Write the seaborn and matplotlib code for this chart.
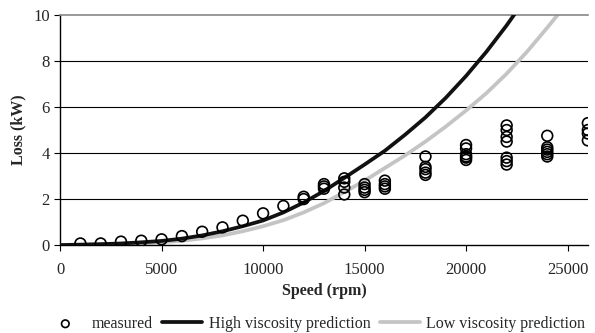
import pandas as pd
import matplotlib.pyplot as plt
import seaborn as sns

# measured loss (kW) vs speed (rpm)
measured_speed = [1000, 2000, 3000, 4000, 5000, 6000, 7000, 8000, 9000, 10000, 11000,
                  12000, 12000,
                  13000, 13000, 13000,
                  14000, 14000, 14000, 14000,
                  15000, 15000, 15000, 15000,
                  16000, 16000, 16000, 16000,
                  18000, 18000, 18000, 18000, 18000,
                  20000, 20000, 20000, 20000, 20000, 20000,
                  22000, 22000, 22000, 22000, 22000, 22000, 22000,
                  24000, 24000, 24000, 24000, 24000, 24000,
                  26000, 26000, 26000, 26000]
measured_loss = [0.07, 0.07, 0.15, 0.19, 0.25, 0.39, 0.58, 0.77, 1.06, 1.38, 1.7,
                 2.0, 2.1,
                 2.45, 2.55, 2.65,
                 2.2, 2.5, 2.75, 2.9,
                 2.3, 2.4, 2.5, 2.65,
                 2.45, 2.55, 2.65, 2.8,
                 3.05, 3.15, 3.3, 3.4, 3.85,
                 3.7, 3.8, 3.85, 3.95, 4.2, 4.35,
                 3.5, 3.65, 3.8, 4.5, 4.7, 5.0, 5.2,
                 3.85, 3.95, 4.05, 4.15, 4.25, 4.75,
                 4.55, 4.85, 5.0, 5.3]

# prediction curves
high_speed = [0, 1000, 2000, 3000, 4000, 5000, 6000, 7000, 8000, 9000, 10000, 11000,
              12000, 13000, 14000, 15000, 16000, 17000, 18000, 19000, 20000, 21000,
              22000, 22400]
high_loss = [0.0, 0.02, 0.04, 0.07, 0.12, 0.18, 0.28, 0.42, 0.6, 0.82, 1.07, 1.42,
             1.85, 2.35, 2.92, 3.5, 4.1, 4.8, 5.55, 6.4, 7.35, 8.4,
             9.55, 10.05]
low_speed = [0, 1000, 2000, 3000, 4000, 5000, 6000, 7000, 8000, 9000, 10000, 11000,
             12000, 13000, 14000, 15000, 16000, 17000, 18000, 19000, 20000, 21000,
             22000, 23000, 24000, 24600]
low_loss = [0.0, 0.01, 0.03, 0.05, 0.08, 0.12, 0.19, 0.29, 0.42, 0.6, 0.82, 1.08,
            1.42, 1.82, 2.3, 2.8, 3.35, 3.9, 4.5, 5.15, 5.85, 6.6,
            7.45, 8.4, 9.45, 10.1]

x_ticks = [0, 5000, 10000, 15000, 20000, 25000]
y_ticks = [0, 2, 4, 6, 8, 10]

sns.set_style('white')
plt.rcParams['font.family'] = ['Liberation Serif', 'DejaVu Serif']

fig = plt.figure(figsize=(5.95, 3.33), dpi=100)
ax = fig.add_axes([0.101, 0.264, 0.887, 0.691])

df_meas = pd.DataFrame({'speed': measured_speed, 'loss': measured_loss})
df_high = pd.DataFrame({'speed': high_speed, 'loss': high_loss})
df_low = pd.DataFrame({'speed': low_speed, 'loss': low_loss})

# horizontal gridlines
for y in y_ticks[1:-1]:
    ax.axhline(y, color='black', lw=0.8, zorder=0)

sns.lineplot(data=df_low, x='speed', y='loss', ax=ax, color='#c4c4c4', lw=2.7,
             label='Low viscosity prediction', zorder=2)
sns.lineplot(data=df_high, x='speed', y='loss', ax=ax, color='#111111', lw=2.7,
             label='High viscosity prediction', zorder=3)
sns.scatterplot(data=df_meas, x='speed', y='loss', ax=ax, s=60, marker='o',
                facecolor='none', edgecolor='black', linewidth=1.2,
                label='measured', zorder=4)

ax.set_xlim(0, 26000)
ax.set_ylim(0, 10)
ax.set_xticks(x_ticks)
ax.set_yticks(y_ticks)
ax.tick_params(axis='both', labelsize=12, direction='out', length=4, width=0.8,
               color='black', bottom=True, left=True)
ax.tick_params(axis='x', pad=8)

ax.spines['right'].set_visible(False)
ax.spines['top'].set_color('#888888')
ax.spines['top'].set_linewidth(1.2)
for side in ['left', 'bottom']:
    ax.spines[side].set_color('black')
    ax.spines[side].set_linewidth(1.0)

ax.set_xlabel('Speed (rpm)', fontsize=11.5, fontweight='bold', labelpad=4)
ax.set_ylabel('Loss (kW)', fontsize=11.5, fontweight='bold', labelpad=5)

handles, labels = ax.get_legend_handles_labels()
order = [labels.index('measured'), labels.index('High viscosity prediction'),
         labels.index('Low viscosity prediction')]
ax.get_legend().remove()
fig.legend([handles[i] for i in order], [labels[i] for i in order],
           loc='lower center', bbox_to_anchor=(0.53, -0.04), ncol=3, frameon=False,
           fontsize=11.5, handlelength=2.5, columnspacing=0.6, handletextpad=0.4,
           markerscale=0.7)

plt.savefig('out.png', dpi=100)
plt.close()
